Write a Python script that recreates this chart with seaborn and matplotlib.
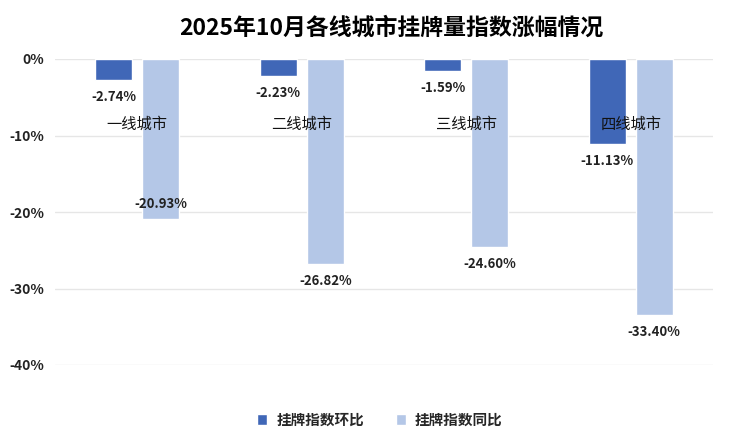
import matplotlib
matplotlib.use("Agg")
import matplotlib.pyplot as plt
import seaborn as sns
import pandas as pd
from matplotlib.patches import Patch

categories = ["一线城市", "二线城市", "三线城市", "四线城市"]
series_names = ["挂牌指数环比", "挂牌指数同比"]
mom = [-2.74, -2.23, -1.59, -11.13]
yoy = [-20.93, -26.82, -24.60, -33.40]
yticks = [0, -10, -20, -30, -40]
title = "2025年10月各线城市挂牌量指数涨幅情况"

colors = ["#4067B7", "#B4C7E7"]

sns.set_theme(style="white")
plt.rcParams["font.family"] = ["Noto Sans CJK SC", "DejaVu Sans"]

df = pd.DataFrame({
    "city": categories * 2,
    "series": [series_names[0]] * 4 + [series_names[1]] * 4,
    "value": mom + yoy,
})

fig = plt.figure(figsize=(7.35, 4.38), dpi=100)
ax = fig.add_axes([55 / 735, 73 / 438, 658 / 735, 306 / 438])

sns.barplot(data=df, x="city", y="value", hue="series", order=categories,
            hue_order=series_names, palette=colors, width=0.571, gap=0.213,
            saturation=1, ax=ax, legend=False, errorbar=None)

ax.set_ylim(-40, 0)
ax.set_xlim(-0.5, 3.5)
ax.set_yticks(yticks)
ax.set_yticklabels([f"{t}%" for t in yticks], fontsize=10, fontweight="bold", color="#222222")
ax.set_xticks([])
ax.set_xlabel("")
ax.set_ylabel("")
ax.tick_params(axis="y", length=0, pad=8)
ax.yaxis.grid(True, color="#E6E6E6", linewidth=1)
ax.set_axisbelow(True)
for s in ax.spines.values():
    s.set_visible(False)

# category labels
for i, c in enumerate(categories):
    ax.text(i, -8.6, c, ha="center", va="center", fontsize=11, color="#111111", zorder=5)

# data labels
for ci, cont in enumerate(ax.containers):
    vals = mom if ci == 0 else yoy
    for j, (bar, v) in enumerate(zip(cont, vals)):
        x = bar.get_x() + bar.get_width() / 2
        off = -17
        if ci == 1 and j == 0:
            off = 15
        ax.annotate(f"{v:.2f}%", (x, v), xytext=(0, off), textcoords="offset pixels",
                    ha="center", va="center", fontsize=9.5, fontweight="semibold",
                    color="#222222", zorder=6)

fig.text(0.532, 0.935, title, ha="center", va="center", fontsize=16.5, fontweight="bold", color="#000000")

handles = [Patch(facecolor=colors[0]), Patch(facecolor=colors[1])]
fig.legend(handles, series_names, loc="center", bbox_to_anchor=(0.517, 0.042), ncol=2,
           frameon=False, handlelength=0.7, handleheight=0.7, handletextpad=0.6,
           columnspacing=2.2, prop={"size": 10.5, "weight": "bold"})

fig.savefig("out.png", dpi=100)
